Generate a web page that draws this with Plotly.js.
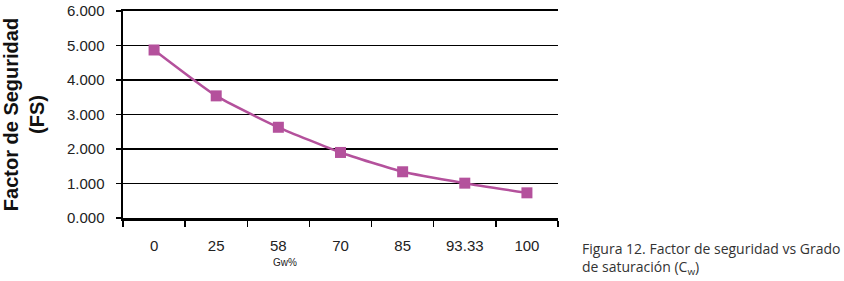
<!DOCTYPE html>
<html>
<head>
<meta charset="utf-8">
<script src="https://cdn.plot.ly/plotly-3.0.1.min.js"></script>
<style>html,body{margin:0;padding:0;background:#fff}#chart{width:844px;height:281px}</style>
</head>
<body>
<div id="chart"></div>
<script>
const categories = ["0", "25", "58", "70", "85", "93.33", "100"];
const fsValues = [4.87, 3.54, 2.63, 1.90, 1.34, 1.01, 0.73];
const yTickVals = [0, 1, 2, 3, 4, 5, 6];
const yTickText = ["0.000", "1.000", "2.000", "3.000", "4.000", "5.000", "6.000"];

const trace = {
  x: categories,
  y: fsValues,
  type: 'scatter',
  mode: 'lines+markers',
  line: {color: '#B4519C', width: 2.5, shape: 'spline', smoothing: 0.5},
  marker: {symbol: 'square', size: 11, color: '#B4519C'},
  hoverinfo: 'x+y'
};

const layout = {
  width: 844, height: 281,
  margin: {l: 123, r: 286, t: 11, b: 63},
  paper_bgcolor: '#fff', plot_bgcolor: '#fff',
  showlegend: false,
  font: {family: 'Liberation Sans, Arial, sans-serif', color: '#222'},
  xaxis: {
    type: 'category',
    showline: true, linecolor: '#000', linewidth: 2.5,
    mirror: true,
    ticks: 'outside', ticklen: 6, tickwidth: 1.5, tickcolor: '#000',
    tickson: 'boundaries',
    showgrid: false, zeroline: false,
    ticklabelstandoff: 12,
    tickfont: {size: 15, color: '#222'},
    range: [-0.5, 6.5]
  },
  yaxis: {
    range: [0, 6],
    tickvals: yTickVals, ticktext: yTickText,
    showline: true, linecolor: '#000', linewidth: 2.5,
    ticks: 'outside', ticklen: 5, tickwidth: 1.5, tickcolor: '#000',
    showgrid: true, gridcolor: '#000', gridwidth: 1.3,
    zeroline: false,
    ticklabelstandoff: 8,
    tickfont: {size: 15, color: '#222'},
    title: {text: '<b>Factor de Seguridad<br>(FS)</b>', font: {size: 20, color: '#111'}, standoff: 18}
  },
  annotations: [
    {text: 'Gw%', xref: 'paper', yref: 'paper', x: (285 - 123) / 435, y: -0.215, xanchor: 'center', yanchor: 'middle', showarrow: false, font: {size: 10, color: '#222'}},
    {text: 'Figura 12. Factor de seguridad vs Grado<br>de saturación (C<sub>w</sub>)', xref: 'paper', yref: 'paper', x: (580 - 123) / 435, y: -0.09, xanchor: 'left', yanchor: 'top', align: 'left', showarrow: false, font: {size: 14, color: '#333', family: 'Open Sans, sans-serif'}}
  ]
};

Plotly.newPlot('chart', [trace], layout, {displayModeBar: false, staticPlot: true});
</script>
</body>
</html>
